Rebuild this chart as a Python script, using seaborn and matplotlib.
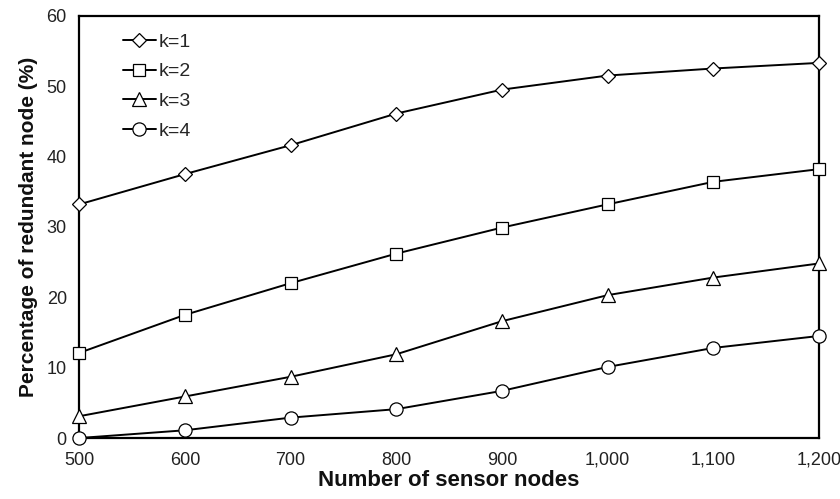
import pandas as pd
import seaborn as sns
import matplotlib.pyplot as plt
from matplotlib.ticker import FuncFormatter

# Values
sensor_nodes = [500, 600, 700, 800, 900, 1000, 1100, 1200]
k1 = [33.2, 37.5, 41.6, 46.1, 49.5, 51.5, 52.5, 53.3]
k2 = [12.1, 17.5, 22.0, 26.2, 29.9, 33.2, 36.4, 38.2]
k3 = [3.1, 5.9, 8.7, 11.9, 16.6, 20.3, 22.8, 24.8]
k4 = [0.0, 1.1, 2.9, 4.1, 6.7, 10.1, 12.8, 14.5]
series_labels = ["k=1", "k=2", "k=3", "k=4"]

# Long-form table for seaborn
df = pd.DataFrame({
    "nodes": sensor_nodes * 4,
    "pct": k1 + k2 + k3 + k4,
    "k": [lab for lab in series_labels for _ in sensor_nodes],
})

sns.set_style("white")
plt.rcParams["font.family"] = ["Liberation Sans", "DejaVu Sans"]

fig = plt.figure(figsize=(8.4, 4.99), dpi=100)
ax = fig.add_axes([0.0944, 0.1222, 0.8806, 0.8463])

markers = {"k=1": "D", "k=2": "s", "k=3": "^", "k=4": "o"}
sizes = {"k=1": 7.5, "k=2": 9, "k=3": 10, "k=4": 9.5}
for lab in series_labels:
    sns.lineplot(
        data=df[df["k"] == lab], x="nodes", y="pct",
        color="black", linewidth=1.4, marker=markers[lab],
        markersize=sizes[lab], markerfacecolor="white",
        markeredgecolor="black", markeredgewidth=0.9,
        legend=False, ax=ax, clip_on=False, zorder=3,
    )

ax.set_xlim(500, 1200)
ax.set_ylim(0, 60)
ax.set_xticks(sensor_nodes)
ax.set_yticks(range(0, 61, 10))
ax.xaxis.set_major_formatter(FuncFormatter(lambda v, p: f"{int(v):,}"))

for s in ax.spines.values():
    s.set_color("black")
    s.set_linewidth(1.6)

ax.tick_params(axis="both", direction="out", length=5, width=0.8,
               color="#888888", labelsize=13, labelcolor="#222222")
ax.tick_params(axis="x", pad=5)
ax.tick_params(axis="y", pad=4)

ax.set_xlabel("Number of sensor nodes", fontsize=16, fontweight="bold",
              color="#111111", labelpad=1)
ax.set_ylabel("Percentage of redundant node (%)", fontsize=15,
              fontweight="bold", color="#111111", labelpad=6)

ax.legend(ax.lines[:4], series_labels, loc="upper left",
          bbox_to_anchor=(0.036, 1.0), frameon=False, fontsize=14,
          handlelength=1.65, handletextpad=0.15, labelspacing=0.62)

plt.savefig("out.png", dpi=100)
